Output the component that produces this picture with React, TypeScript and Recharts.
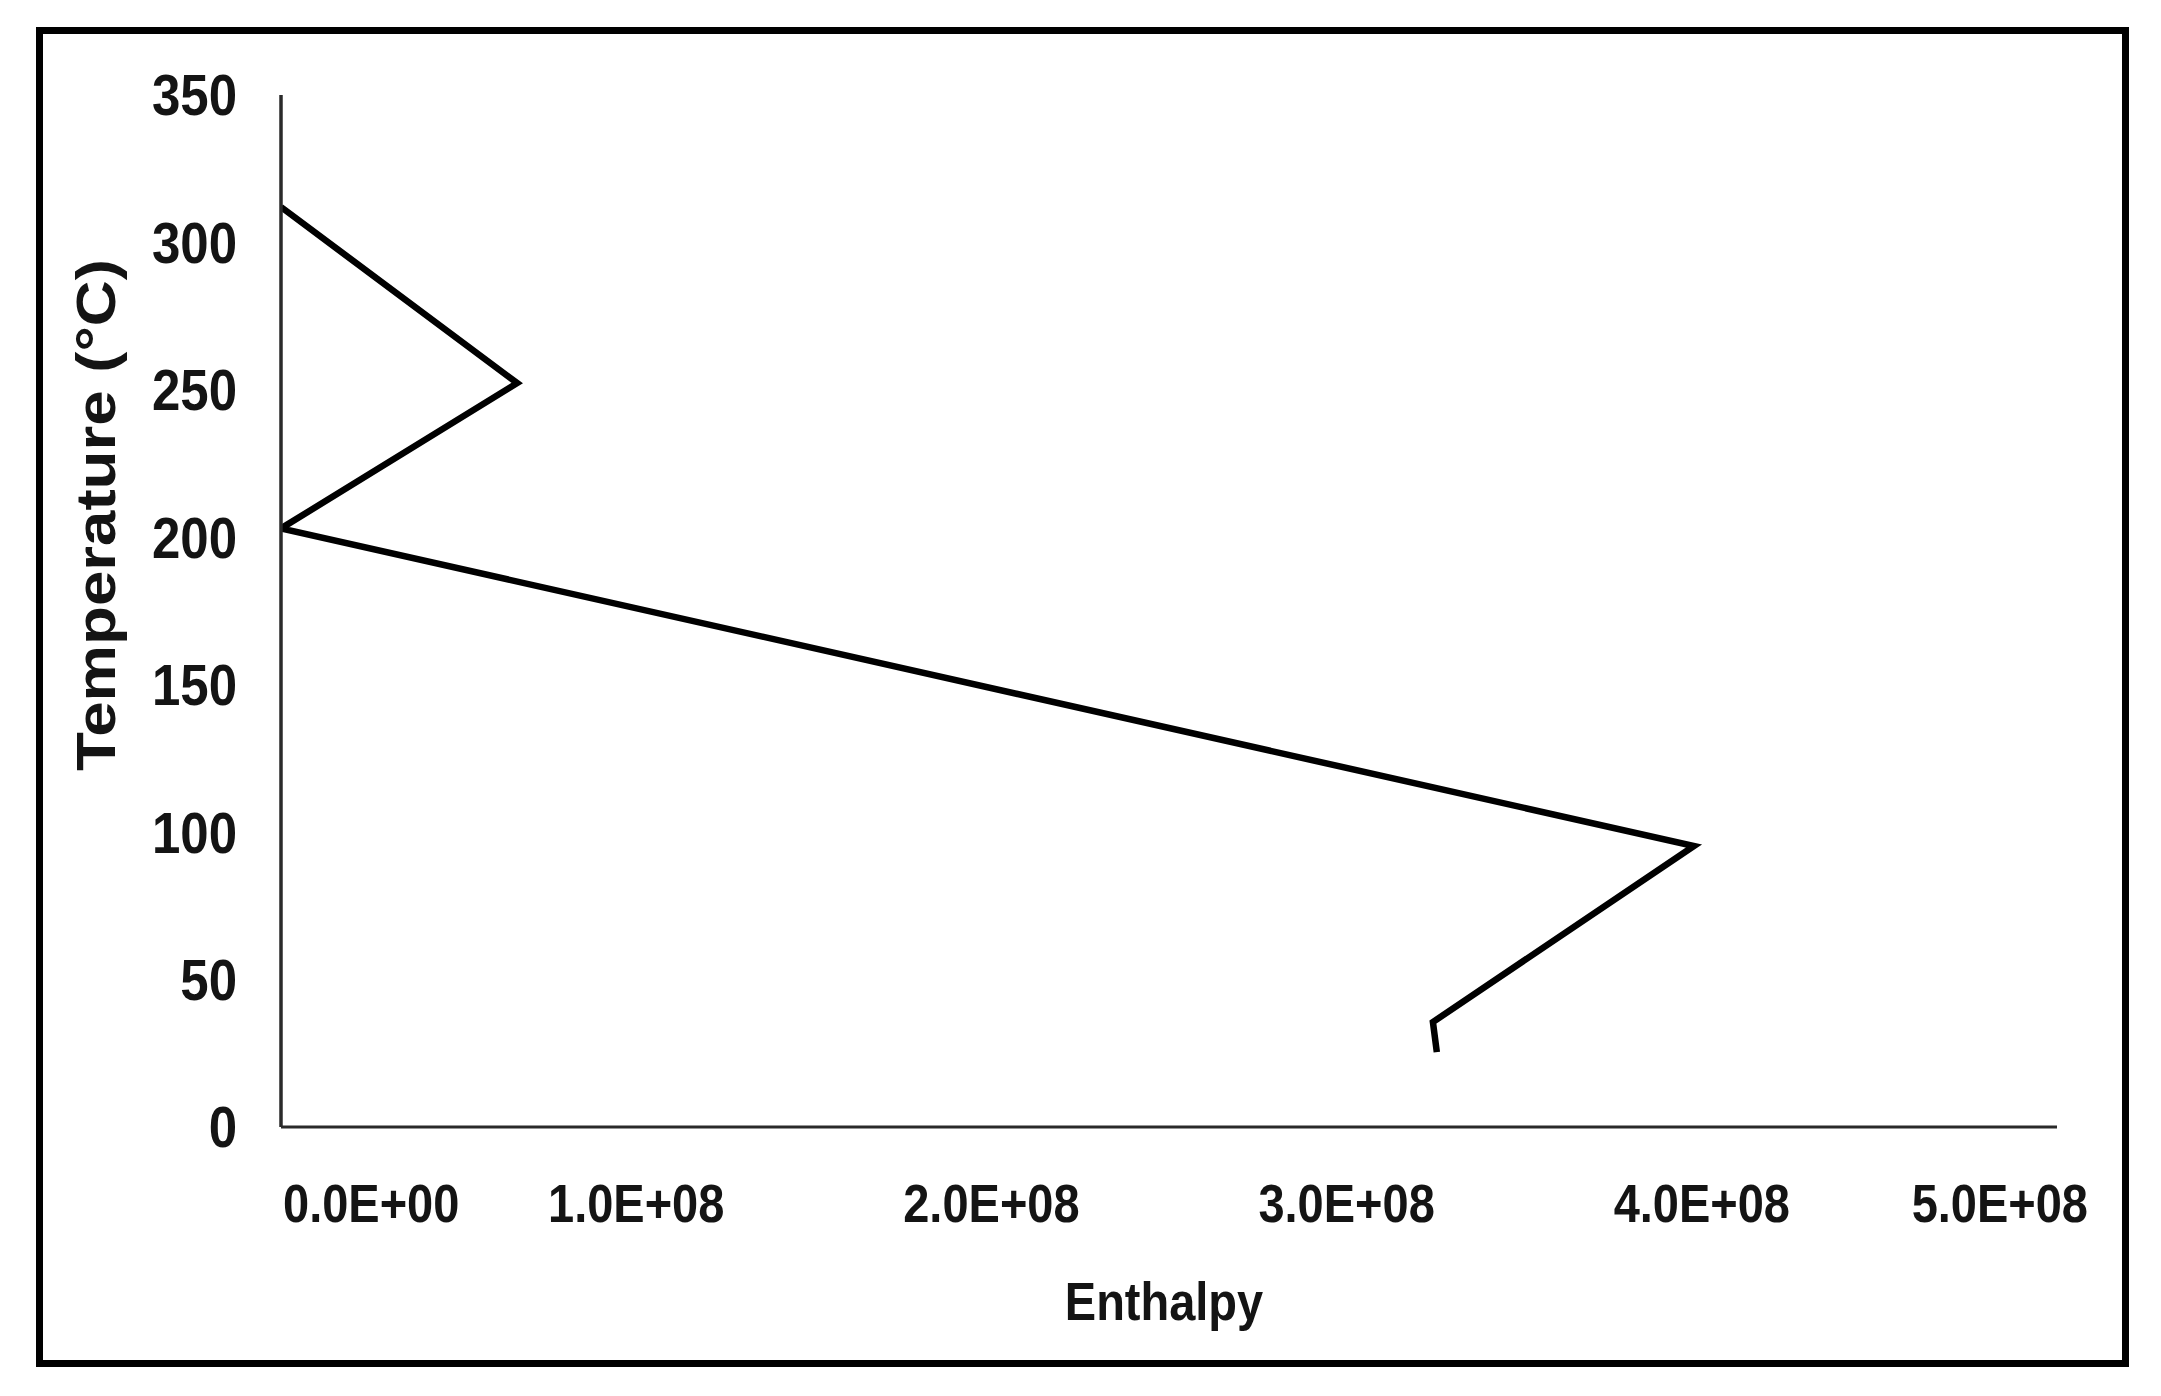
import React from "react";
import { LineChart, Line, XAxis, YAxis } from "recharts";

const enthalpy = [0, 6.65e7, 0, 3.978e8, 3.243e8, 3.254e8];
const temperature = [312, 252.3, 203, 95.3, 35.6, 25.4];
const xTicks = [0, 1e8, 2e8, 3e8, 4e8, 5e8];
const xTickLabels = ["0.0E+00", "1.0E+08", "2.0E+08", "3.0E+08", "4.0E+08", "5.0E+08"];
const yTicks = [0, 50, 100, 150, 200, 250, 300, 350];
const xTitle = "Enthalpy";
const yTitle = "Temperature (°C)";

const data = enthalpy.map((h, i) => ({ h, t: temperature[i] }));

const FONT = "'Liberation Sans', Arial, Helvetica, sans-serif";
const STRETCH = 1.136;
const TEXT = "#141414";

const XTick = (props: any) => {
  const { x, y, payload, index } = props;
  const idx = xTicks.indexOf(payload.value);
  const label = xTickLabels[idx >= 0 ? idx : index];
  const last = xTicks.length - 1;
  let anchor: "start" | "middle" | "end" = "middle";
  let dx = 0;
  if (idx === 0) {
    anchor = "start";
    dx = 2;
  } else if (idx === last) {
    anchor = "end";
    dx = 31;
  }
  return (
    <g transform={`translate(${x + dx},${y}) scale(1,${STRETCH})`}>
      <text x={0} y={0} textAnchor={anchor} fontSize={47} fontWeight={700} fontFamily={FONT} fill={TEXT}>
        {label}
      </text>
    </g>
  );
};

const YTick = (props: any) => {
  const { x, y, payload } = props;
  return (
    <g transform={`translate(${x},${y}) scale(1,${STRETCH})`}>
      <text x={0} y={18} textAnchor="end" fontSize={51} fontWeight={700} fontFamily={FONT} fill={TEXT}>
        {payload.value}
      </text>
    </g>
  );
};

const XTitle = (props: any) => {
  const vb = props.viewBox || { x: 0, y: 0, width: 0, height: 0 };
  const cx = vb.x + vb.width / 2 - 5;
  const cy = vb.y + 193;
  return (
    <g transform={`translate(${cx},${cy}) scale(1,${STRETCH})`}>
      <text x={0} y={0} textAnchor="middle" fontSize={47} fontWeight={700} fontFamily={FONT} fill={TEXT}>
        {xTitle}
      </text>
    </g>
  );
};

const YTitle = (props: any) => {
  const vb = props.viewBox || { x: 0, y: 0, width: 0, height: 0 };
  const cx = vb.x - 46;
  const cy = vb.y + 420;
  return (
    <g transform={`translate(${cx},${cy}) scale(1,${STRETCH}) rotate(-90)`}>
      <text x={0} y={0} textAnchor="middle" fontSize={56} fontWeight={700} fontFamily={FONT} fill={TEXT}>
        {yTitle}
      </text>
    </g>
  );
};

export default function App() {
  return (
    <div style={{ position: "absolute", left: 0, top: 0, width: 2161, height: 1396, background: "#fff" }}>
      <div
        style={{
          position: "absolute",
          left: 36,
          top: 27,
          width: 2093,
          height: 1340,
          border: "7px solid #000",
          boxSizing: "border-box",
        }}
      />
      <div style={{ position: "absolute", left: 0, top: 0 }}>
        <LineChart
          width={2161}
          height={1396}
          data={data}
          margin={{ top: 95, right: 104, bottom: 169, left: 161 }}
        >
          <XAxis
            type="number"
            dataKey="h"
            domain={[0, 5e8]}
            ticks={xTicks}
            interval={0}
            allowDataOverflow
            height={100}
            tickSize={0}
            tickMargin={95}
            tickLine={false}
            axisLine={{ stroke: "#2a2a2a", strokeWidth: 3 }}
            tick={<XTick />}
            label={<XTitle />}
          />
          <YAxis
            type="number"
            dataKey="t"
            domain={[0, 350]}
            ticks={yTicks}
            interval={0}
            allowDataOverflow
            width={120}
            tickSize={0}
            tickMargin={44}
            tickLine={false}
            axisLine={{ stroke: "#2a2a2a", strokeWidth: 3.5 }}
            tick={<YTick />}
            label={<YTitle />}
          />
          <Line
            type="linear"
            dataKey="t"
            stroke="#000"
            strokeWidth={6.5}
            strokeLinejoin="miter"
            dot={false}
            activeDot={false}
            isAnimationActive={false}
          />
        </LineChart>
      </div>
    </div>
  );
}
